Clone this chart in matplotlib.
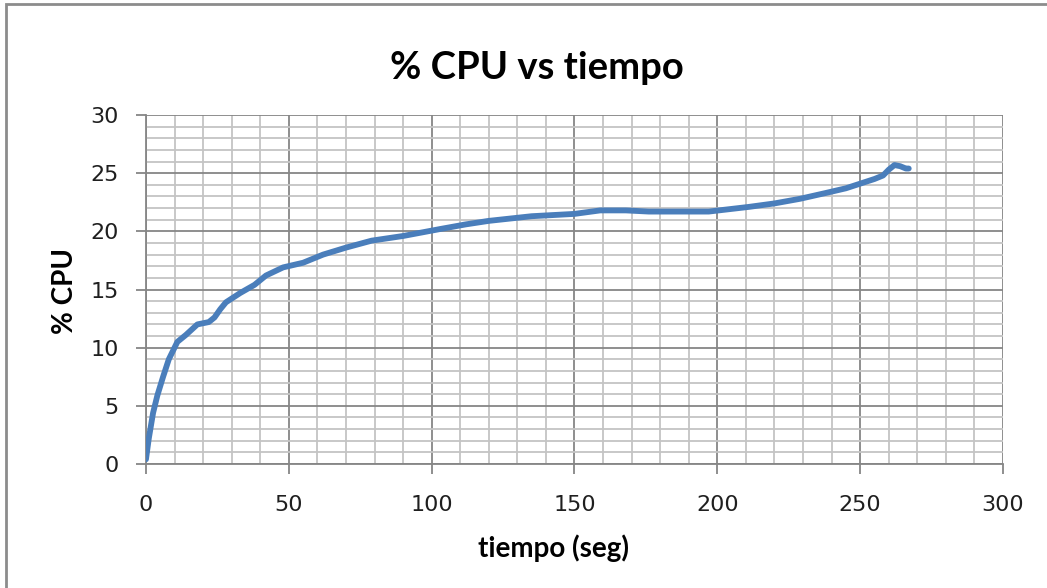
import matplotlib
matplotlib.use("Agg")
import matplotlib.pyplot as plt
from matplotlib.ticker import MultipleLocator
from matplotlib.patches import Rectangle

tiempo = [0, 1, 2.5, 4, 6, 8, 11, 14, 18, 22, 24, 26, 28, 33, 38, 42, 48, 55, 62, 70,
          79, 90, 103, 112, 120, 135, 150, 159, 168, 176, 186, 197, 204, 211, 220,
          229, 238, 245, 250, 255, 258, 260, 262, 264, 266, 267]
cpu = [0.4, 2.2, 4.4, 5.9, 7.5, 9.0, 10.5, 11.1, 12.0, 12.2, 12.6, 13.3, 13.9, 14.7,
       15.4, 16.2, 16.9, 17.3, 18.0, 18.6, 19.2, 19.6, 20.2, 20.6, 20.9, 21.3, 21.5,
       21.8, 21.8, 21.7, 21.7, 21.7, 21.9, 22.1, 22.4, 22.8, 23.3, 23.7, 24.1, 24.5,
       24.8, 25.3, 25.7, 25.6, 25.4, 25.4]

title = "% CPU vs tiempo"
xlabel = "tiempo (seg)"
ylabel = "% CPU"

plt.rcParams['font.family'] = ['DejaVu Sans']

fig = plt.figure(figsize=(10.47, 5.88), dpi=100)
fig.patches.append(Rectangle((0.006, -0.05), 1.2, 1.043, transform=fig.transFigure,
                             fill=False, edgecolor='#8c8c8c', linewidth=2))
ax = fig.add_axes([0.1394, 0.2109, 0.8186, 0.5935])

ax.plot(tiempo, cpu, color='#4a7ebb', linewidth=4.2, solid_capstyle='round',
        solid_joinstyle='round', zorder=3)

ax.set_xlim(0, 300)
ax.set_ylim(0, 30)
ax.xaxis.set_major_locator(MultipleLocator(50))
ax.xaxis.set_minor_locator(MultipleLocator(10))
ax.yaxis.set_major_locator(MultipleLocator(5))
ax.yaxis.set_minor_locator(MultipleLocator(1))

ax.grid(which='minor', color='#c4c4c4', linewidth=1.3)
ax.grid(which='major', color='#868686', linewidth=1.3)
ax.set_axisbelow(True)

for s in ['top', 'right']:
    ax.spines[s].set_visible(False)
for s in ['left', 'bottom']:
    ax.spines[s].set_color('#868686')
    ax.spines[s].set_linewidth(1.3)

ax.tick_params(which='major', length=7.5, width=1.3, color='#868686',
               labelsize=16, labelcolor='#1f1f1f')
ax.tick_params(axis='x', which='major', pad=15)
ax.tick_params(axis='y', which='major', pad=12)
ax.tick_params(which='minor', length=0)

lab_font = dict(family=['Lato', 'DejaVu Sans'], fontsize=20, fontweight='bold')
fig.text(0.5285, 1 - 548 / 588, xlabel, ha='center', va='center', **lab_font)
fig.text(65 / 1047, 1 - 291 / 588, ylabel, ha='center', va='center', rotation=90, **lab_font)
fig.text(537 / 1047, 1 - 68 / 588, title, ha='center', va='center',
         family=['Lato', 'DejaVu Sans'], fontsize=27.5, fontweight='bold')

fig.savefig('out.png', dpi=100)
